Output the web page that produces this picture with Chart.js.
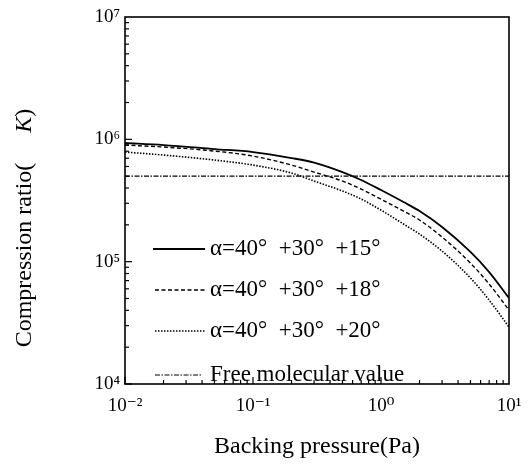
<!DOCTYPE html>
<html>
<head>
<meta charset="utf-8">
<script src="https://cdn.jsdelivr.net/npm/chart.js@4.4.0/dist/chart.umd.min.js"></script>
<style>
  html, body { margin: 0; padding: 0; background: #fff; }
  #wrap { width: 528px; height: 465px; }
</style>
</head>
<body>
<div id="wrap"><canvas id="c" width="528" height="465"></canvas></div>
<script>
// ---- data ----
const pressure = [0.01, 0.02, 0.05, 0.1, 0.2, 0.3, 0.5, 0.7, 1, 1.5, 2, 3, 5, 7, 10];
const k15 = [9.33e5, 8.98e5, 8.33e5, 7.87e5, 7.03e5, 6.46e5, 5.40e5, 4.65e5, 3.85e5, 3.07e5, 2.59e5, 1.92e5, 1.20e5, 8.22e4, 5.04e4];
const k18 = [8.98e5, 8.65e5, 8.02e5, 7.30e5, 6.16e5, 5.40e5, 4.56e5, 3.92e5, 3.24e5, 2.59e5, 2.19e5, 1.59e5, 9.74e4, 6.56e4, 4.02e4];
const k20 = [7.87e5, 7.44e5, 6.77e5, 6.16e5, 5.30e5, 4.56e5, 3.78e5, 3.25e5, 2.64e5, 2.03e5, 1.68e5, 1.22e5, 7.35e4, 4.85e4, 2.92e4];
const freeX = [0.01, 10];
const freeY = [5e5, 5e5];
const seriesLabels = ['α=40°  +30°  +15°', 'α=40°  +30°  +18°', 'α=40°  +30°  +20°', 'Free molecular value'];
const xTickValues = [0.01, 0.1, 1, 10];
const xTickLabels = ['10⁻²', '10⁻¹', '10⁰', '10¹'];
const yTickValues = [1e4, 1e5, 1e6, 1e7];
const yTickLabels = ['10⁴', '10⁵', '10⁶', '10⁷'];
const xTitle = 'Backing pressure(Pa)';
const yTitleParts = ['Compression ratio(', 'K', ')'];

const toPts = (xs, ys) => xs.map((x, i) => ({ x: x, y: ys[i] }));
const SERIF = '"Liberation Serif", "DejaVu Serif", serif';

const framePlugin = {
  id: 'frame',
  afterDraw(chart) {
    const { ctx, chartArea: a, scales } = chart;
    ctx.save();
    ctx.strokeStyle = '#000';
    ctx.lineWidth = 1.6;
    ctx.strokeRect(a.left, a.top, a.right - a.left, a.bottom - a.top);
    // inward ticks
    ctx.lineWidth = 1.2;
    const ys = scales.y, xs = scales.x;
    for (let e = 4; e < 7; e++) {
      for (let m = 1; m <= 9; m++) {
        const v = m * Math.pow(10, e);
        const py = ys.getPixelForValue(v);
        const len = m === 1 ? 7 : 4;
        ctx.beginPath(); ctx.moveTo(a.left, py); ctx.lineTo(a.left + len, py); ctx.stroke();
      }
    }
    for (let e = -2; e < 1; e++) {
      for (let m = 1; m <= 9; m++) {
        const v = m * Math.pow(10, e);
        const px = xs.getPixelForValue(v);
        const len = m === 1 ? 7 : 4;
        ctx.beginPath(); ctx.moveTo(px, a.bottom); ctx.lineTo(px, a.bottom - len); ctx.stroke();
      }
    }
    // y title with italic K
    ctx.fillStyle = '#000';
    ctx.translate(25, 228);
    ctx.rotate(-Math.PI / 2);
    ctx.textBaseline = 'middle';
    const f1 = '24px ' + SERIF, f2 = 'italic 24px ' + SERIF;
    ctx.font = f1; const w1 = ctx.measureText(yTitleParts[0]).width;
    const gap = 30;
    ctx.font = f2; const w2 = ctx.measureText(yTitleParts[1]).width;
    ctx.font = f1; const w3 = ctx.measureText(yTitleParts[2]).width;
    let x0 = -(w1 + gap + w2 + w3) / 2;
    ctx.textAlign = 'left';
    ctx.font = f1; ctx.fillText(yTitleParts[0], x0, 0);
    ctx.font = f2; ctx.fillText(yTitleParts[1], x0 + w1 + gap, 0);
    ctx.font = f1; ctx.fillText(yTitleParts[2], x0 + w1 + gap + w2, 0);
    ctx.restore();
  }
};

const legendPlugin = {
  id: 'insideLegend',
  afterDatasetsDraw(chart) {
    const { ctx } = chart;
    const rowsY = [249, 290, 331, 375];
    const lineX = [[153, 205], [155, 205], [155, 205], [155, 201]];
    ctx.save();
    chart.data.datasets.forEach((ds, i) => {
      const y = rowsY[i];
      ctx.strokeStyle = '#000';
      ctx.lineWidth = ds.borderWidth;
      ctx.setLineDash(ds.borderDash || []);
      ctx.beginPath(); ctx.moveTo(lineX[i][0], y); ctx.lineTo(lineX[i][1], y); ctx.stroke();
      ctx.setLineDash([]);
      ctx.fillStyle = '#000';
      ctx.font = '23px ' + SERIF;
      ctx.textBaseline = 'middle';
      ctx.textAlign = 'left';
      ctx.fillText(ds.label, 210, y);
    });
    ctx.restore();
  }
};

new Chart(document.getElementById('c'), {
  type: 'line',
  data: {
    datasets: [
      { label: seriesLabels[0], data: toPts(pressure, k15), borderColor: '#000', borderWidth: 1.8, pointRadius: 0, tension: 0.4, cubicInterpolationMode: 'monotone' },
      { label: seriesLabels[1], data: toPts(pressure, k18), borderColor: '#000', borderWidth: 1.4, borderDash: [4, 2.5], pointRadius: 0, tension: 0.4, cubicInterpolationMode: 'monotone' },
      { label: seriesLabels[2], data: toPts(pressure, k20), borderColor: '#000', borderWidth: 1.6, borderDash: [1.5, 1.5], pointRadius: 0, tension: 0.4, cubicInterpolationMode: 'monotone' },
      { label: seriesLabels[3], data: toPts(freeX, freeY), borderColor: '#000', borderWidth: 1.1, borderDash: [5, 1.5, 1.5, 1.5], pointRadius: 0 }
    ]
  },
  options: {
    responsive: false,
    animation: false,
    layout: { padding: { left: 0, right: 19, top: 17, bottom: 0 } },
    plugins: { legend: { display: false }, tooltip: { enabled: false } },
    scales: {
      x: {
        type: 'logarithmic', min: 0.01, max: 10,
        afterBuildTicks: s => { s.ticks = xTickValues.map(v => ({ value: v })); },
        afterFit: s => { s.height = 81; s.paddingLeft = 0; s.paddingRight = 0; },
        grid: { display: false, drawTicks: false },
        border: { display: false },
        ticks: {
          color: '#000', font: { family: SERIF, size: 19 }, padding: 11, maxRotation: 0, autoSkip: false,
          callback: v => { const i = xTickValues.findIndex(t => Math.abs(t - v) / t < 1e-6); return i >= 0 ? xTickLabels[i] : ''; }
        },
        title: { display: true, text: xTitle, color: '#000', font: { family: SERIF, size: 24 }, padding: { top: 18 } }
      },
      y: {
        type: 'logarithmic', min: 1e4, max: 1e7,
        afterBuildTicks: s => { s.ticks = yTickValues.map(v => ({ value: v })); },
        afterFit: s => { s.width = 125; s.paddingTop = 0; s.paddingBottom = 0; },
        grid: { display: false, drawTicks: false },
        border: { display: false },
        ticks: {
          color: '#000', font: { family: SERIF, size: 19 }, padding: 5, autoSkip: false,
          callback: v => { const i = yTickValues.findIndex(t => Math.abs(t - v) / t < 1e-6); return i >= 0 ? yTickLabels[i] : ''; }
        }
      }
    }
  },
  plugins: [framePlugin, legendPlugin]
});
</script>
</body>
</html>
